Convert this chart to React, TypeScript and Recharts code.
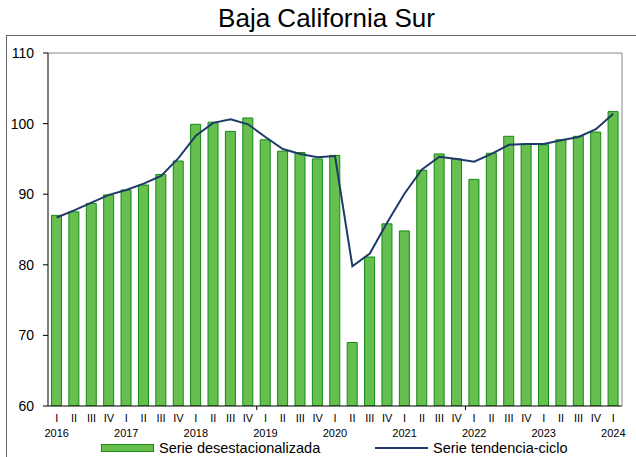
import React from "react";
import { ComposedChart, Bar, Line, XAxis, YAxis, Legend } from "recharts";

const quarterLabels = ["I", "II", "III", "IV"];
const years = ["2016", "2017", "2018", "2019", "2020", "2021", "2022", "2023", "2024"];

const desestacionalizada = [
  87.0, 87.5, 88.7, 89.9, 90.6, 91.3, 92.8, 94.7, 99.9, 100.2, 98.9, 100.8, 97.7, 96.1, 95.9, 95.0,
  95.5, 69.0, 81.1, 85.8, 84.8, 93.4, 95.7, 95.0, 92.1, 95.8, 98.2, 97.1, 97.0, 97.7, 98.2, 98.8, 101.7,
];

const tendenciaCiclo = [
  86.7, 87.7, 88.8, 89.9, 90.6, 91.5, 92.6, 95.1, 98.3, 100.1, 100.6, 99.9, 98.1, 96.4, 95.7, 95.25,
  95.4, 79.8, 81.6, 86.0, 90.1, 93.5, 95.3, 95.0, 94.6, 95.7, 97.0, 97.1, 97.1, 97.65, 98.1, 99.2, 101.4,
];

const yTicks = [60, 70, 80, 90, 100, 110];

const data = desestacionalizada.map((v, i) => ({
  period: `${years[Math.floor(i / 4)]} ${quarterLabels[i % 4]}`,
  quarter: quarterLabels[i % 4],
  year: i % 4 === 0 ? years[Math.floor(i / 4)] : "",
  desest: v,
  tendencia: tendenciaCiclo[i],
}));

const FONT = "'Liberation Sans', Arial, sans-serif";
const BAR_FILL = "#66BF4F";
const BAR_STROKE = "#138A13";
const LINE_COLOR = "#1F3A68";

const CHART_W = 636;
const CHART_H = 457;
const PLOT_LEFT = 48;
const PLOT_RIGHT = 622;
const BAND = (PLOT_RIGHT - PLOT_LEFT) / data.length;

const XTick = (props: any) => {
  const { x, y, payload } = props;
  const idx = payload.index;
  const row = data[idx];
  return (
    <g>
      <text x={x} y={y + 15.5} textAnchor="middle" fontSize={11} fontFamily={FONT} fill="#000">
        {row.quarter}
      </text>
      {row.year && (
        <text x={x} y={y + 30.5} textAnchor="middle" fontSize={11} fontFamily={FONT} fill="#000">
          {row.year}
        </text>
      )}
      {idx % 12 === 0 && idx > 0 && (
        <line x1={x - BAND / 2} x2={x - BAND / 2} y1={y} y2={y + 4} stroke="#000" strokeWidth={1} />
      )}
    </g>
  );
};

const LegendContent = () => (
  <div style={{ position: "relative", width: CHART_W, height: 19, fontFamily: FONT, fontSize: 14.5, color: "#000" }}>
    <div style={{ position: "absolute", left: 101, top: 0, display: "flex", alignItems: "center", height: 19 }}>
      <span style={{ display: "inline-block", width: 51, height: 6, background: BAR_FILL, border: `1px solid ${BAR_STROKE}` }} />
      <span style={{ marginLeft: 5, whiteSpace: "nowrap" }}>Serie desestacionalizada</span>
    </div>
    <div style={{ position: "absolute", left: 375, top: 0, display: "flex", alignItems: "center", height: 19 }}>
      <span style={{ display: "inline-block", width: 53, height: 2, background: LINE_COLOR }} />
      <span style={{ marginLeft: 5, whiteSpace: "nowrap" }}>Serie tendencia-ciclo</span>
    </div>
  </div>
);

export default function App() {
  return (
    <div style={{ position: "absolute", left: 0, top: 0, width: CHART_W, height: CHART_H, background: "#fff", overflow: "hidden" }}>
      <div
        style={{
          position: "absolute",
          left: 6,
          top: 35,
          width: 700,
          height: 500,
          borderLeft: "1px solid #666",
          borderTop: "1px solid #666",
        }}
      />
      <div
        style={{
          position: "absolute",
          left: 0,
          top: 3,
          width: 653,
          textAlign: "center",
          fontFamily: FONT,
          fontSize: 26,
          lineHeight: "30px",
          color: "#000",
        }}
      >
        Baja California Sur
      </div>
      <div style={{ position: "absolute", left: 0, top: 0 }}>
        <ComposedChart
          width={CHART_W}
          height={CHART_H}
          data={data}
          margin={{ top: 52, right: 13, bottom: 0, left: 0 }}
          barCategoryGap="20%"
        >
          <XAxis
            dataKey="period"
            interval={0}
            tickLine={false}
            tickSize={0}
            tickMargin={0}
            height={51}
            axisLine={{ stroke: "#000", strokeWidth: 1 }}
            tick={<XTick />}
          />
          <XAxis
            xAxisId="top"
            dataKey="period"
            orientation="top"
            tick={false}
            tickLine={false}
            height={1}
            axisLine={{ stroke: "#888", strokeWidth: 1 }}
          />
          <YAxis
            domain={[60, 110]}
            ticks={yTicks}
            interval={0}
            width={48}
            tickSize={5}
            tickMargin={9}
            tickLine={{ stroke: "#000" }}
            axisLine={{ stroke: "#000", strokeWidth: 1 }}
            tick={{ fontSize: 14, fontFamily: FONT, fill: "#000" }}
            allowDataOverflow
          />
          <YAxis
            yAxisId="right"
            orientation="right"
            domain={[60, 110]}
            width={1}
            tick={false}
            tickLine={false}
            axisLine={{ stroke: "#888", strokeWidth: 1 }}
          />
          <Bar
            dataKey="desest"
            name="Serie desestacionalizada"
            fill={BAR_FILL}
            stroke={BAR_STROKE}
            strokeWidth={1}
            isAnimationActive={false}
          />
          <Line
            dataKey="tendencia"
            name="Serie tendencia-ciclo"
            type="linear"
            stroke={LINE_COLOR}
            strokeWidth={2}
            dot={false}
            activeDot={false}
            isAnimationActive={false}
          />
          <Legend
            layout="horizontal"
            verticalAlign="middle"
            align="center"
            content={<LegendContent />}
            wrapperStyle={{ left: 0, top: 438, width: CHART_W, height: 19 }}
          />
        </ComposedChart>
      </div>
    </div>
  );
}
